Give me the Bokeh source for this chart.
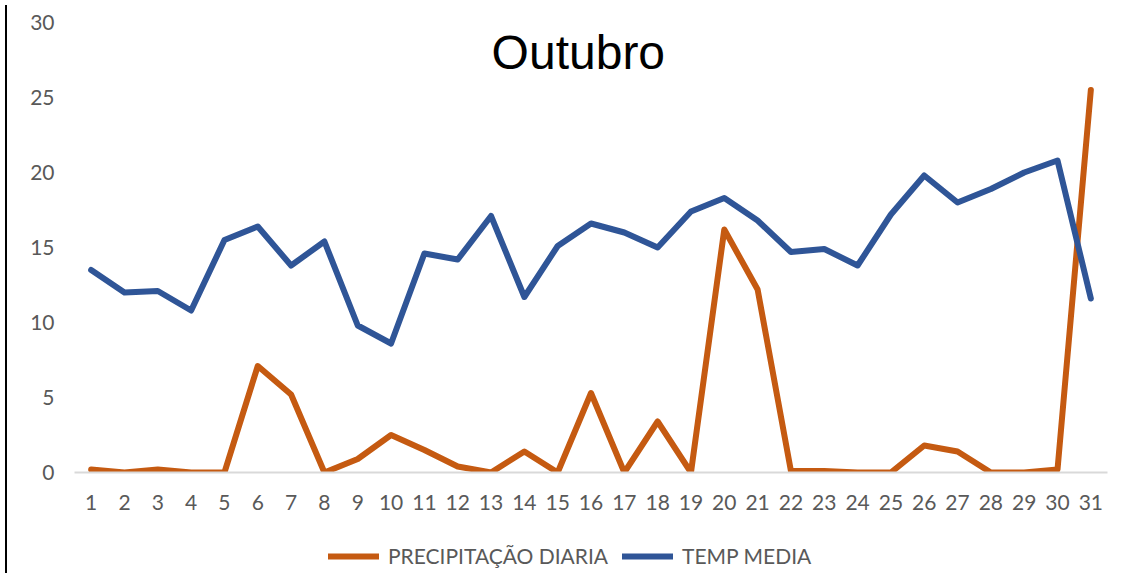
from bokeh.plotting import figure
from bokeh.models import Range1d, FixedTicker, Legend, LegendItem, Label, ColumnDataSource, Div
from bokeh.layouts import row, column
from bokeh.embed import file_html
from bokeh.resources import INLINE

days = list(range(1, 32))
day_labels = [str(d) for d in days]
precipitacao = [0.2, 0.0, 0.2, 0.0, 0.0, 7.1, 5.2, 0.0, 0.9, 2.5, 1.5, 0.4, 0.0, 1.4, 0.0, 5.3,
                0.0, 3.4, 0.0, 16.2, 12.2, 0.1, 0.1, 0.0, 0.0, 1.8, 1.4, 0.0, 0.0, 0.2, 25.5]
temp_media = [13.5, 12.0, 12.1, 10.8, 15.5, 16.4, 13.8, 15.4, 9.8, 8.6, 14.6, 14.2, 17.1, 11.7, 15.1, 16.6,
              16.0, 15.0, 17.4, 18.3, 16.8, 14.7, 14.9, 13.8, 17.2, 19.8, 18.0, 18.9, 20.0, 20.8, 11.6]
y_ticks = [0, 5, 10, 15, 20, 25, 30]
title_text = "Outubro"
series_names = ["PRECIPITAÇÃO DIARIA", "TEMP MEDIA"]

ORANGE = "#C55A11"
BLUE = "#2F5597"
GREY = "#595959"
FONT = "Lato"

src = ColumnDataSource(dict(day=days, prec=precipitacao, temp=temp_media))

p = figure(frame_width=1033, frame_height=450, output_backend="svg", toolbar_location=None,
           x_range=Range1d(0.5, 31.5), y_range=Range1d(0, 30),
           min_border_left=62, min_border_right=9, min_border_top=22, min_border_bottom=60)
p.outline_line_color = None
p.xgrid.grid_line_color = None
p.ygrid.grid_line_color = None

line_kw = dict(line_width=6, line_cap="round", line_join="round")
r1 = p.line("day", "prec", source=src, line_color=ORANGE, **line_kw)
r2 = p.line("day", "temp", source=src, line_color=BLUE, **line_kw)

p.xaxis.ticker = FixedTicker(ticks=days)
p.xaxis.major_label_overrides = {d: s for d, s in zip(days, day_labels)}
p.xaxis.axis_line_color = "#D9D9D9"
p.xaxis.axis_line_width = 2
p.xaxis.major_tick_line_color = None
p.xaxis.minor_tick_line_color = None
p.xaxis.major_label_standoff = 16
p.xaxis.major_label_text_font = FONT
p.xaxis.major_label_text_font_size = "21px"
p.xaxis.major_label_text_color = GREY

p.yaxis.ticker = FixedTicker(ticks=y_ticks)
p.yaxis.axis_line_color = None
p.yaxis.major_tick_line_color = None
p.yaxis.minor_tick_line_color = None
p.yaxis.major_label_standoff = 14
p.yaxis.major_label_text_font = FONT
p.yaxis.major_label_text_font_size = "21px"
p.yaxis.major_label_text_color = GREY

title = Label(x=15.62, y=28.0, text=title_text, text_align="center", text_baseline="alphabetic",
              text_font="Liberation Sans", text_font_size="48px", text_color="#000000")
p.add_layout(title)

# Legend strip below the chart (same series, drawn in a strip whose range hides the lines)
pl = figure(width=1104, height=48, output_backend="svg", toolbar_location=None,
            x_range=Range1d(0.5, 31.5), y_range=Range1d(100, 101),
            min_border=0, min_border_left=0, min_border_right=0, min_border_top=0, min_border_bottom=0)
pl.axis.visible = False
pl.grid.visible = False
pl.outline_line_color = None
l1 = pl.line("day", "prec", source=src, line_color=ORANGE, **line_kw)
l2 = pl.line("day", "temp", source=src, line_color=BLUE, **line_kw)

legend = Legend(items=[LegendItem(label=series_names[0], renderers=[l1]),
                       LegendItem(label=series_names[1], renderers=[l2])],
                orientation="horizontal", location=(254, 12),
                label_text_font=FONT, label_text_font_size="21px", label_text_color=GREY,
                glyph_width=51, glyph_height=24, label_height=24, spacing=14, label_standoff=9,
                border_line_color=None, background_fill_alpha=0, padding=0, margin=0)
pl.add_layout(legend)

edge = Div(width=2, height=568, styles={"background-color": "#000000"})
layout = row(edge, column(p, pl))

open("out.html", "w").write(file_html(layout, INLINE))
